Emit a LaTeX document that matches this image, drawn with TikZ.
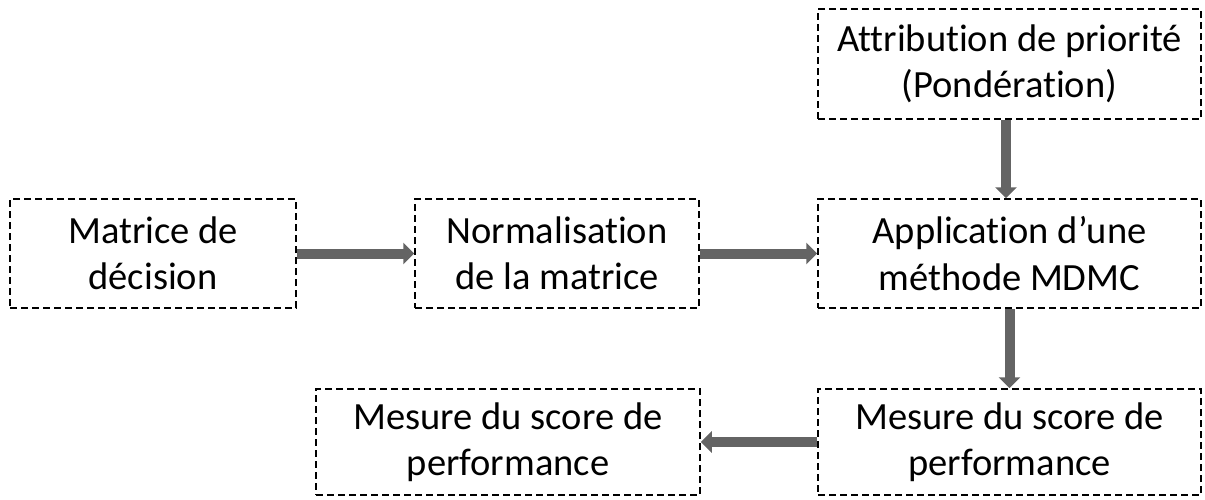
\documentclass[tikz,border=0pt]{standalone}
\usepackage{fontspec}
\setmainfont{Carlito}[Ligatures=NoCommon]
\usetikzlibrary{arrows.meta}
\definecolor{arrowgray}{HTML}{646464}
\tikzset{
  box/.style={draw=black, line width=1.5pt, dash pattern=on 7pt off 4pt, align=center,
    inner sep=0pt, font=\fontsize{38.5}{46.5}\selectfont},
  bigarrow/.style={line width=10pt, draw=arrowgray, -{Triangle[length=11pt,width=21pt]}}
}
\begin{document}
\begin{tikzpicture}[x=1pt,y=-1pt]
\useasboundingbox (0,0) rectangle (1205,499);
\node[box, minimum width=286pt, minimum height=109pt] (A) at (153,253.5) {Matrice de\\décision};
\node[box, minimum width=284pt, minimum height=109pt] (B) at (557,253.5) {Normalisation\\de la matrice};
\node[box, minimum width=383pt, minimum height=109pt] (C) at (1009.5,253.5) {Application d’une\\méthode MDMC};
\node[box, minimum width=383pt, minimum height=110pt] (D) at (1009.5,64) {Attribution de priorité\\(Pondération)};
\node[box, minimum width=383pt, minimum height=106pt] (E) at (1009.5,442) {Mesure du score de\\performance};
\node[box, minimum width=384pt, minimum height=106pt] (F) at (508,442) {Mesure du score de\\performance};
\draw[bigarrow] (A.east) -- (B.west);
\draw[bigarrow] (B.east) -- (C.west);
\draw[bigarrow] ([xshift=-3.5pt]D.south) -- ([xshift=-3.5pt]C.north);
\draw[bigarrow] (C.south) -- (E.north);
\draw[bigarrow] (E.west) -- (F.east);
\end{tikzpicture}
\end{document}
